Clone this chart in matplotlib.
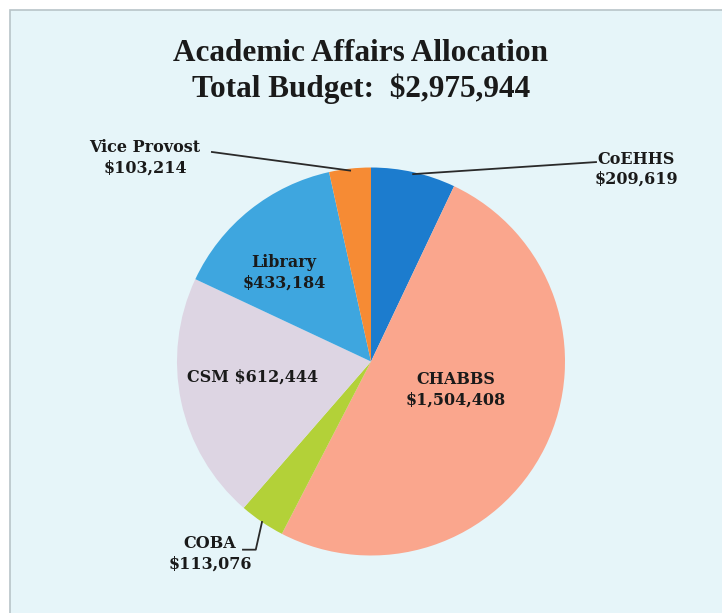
import numpy as np
import matplotlib.pyplot as plt
from matplotlib.patches import Rectangle

# budget allocation, clockwise from 12 o'clock
units = ['CoEHHS', 'CHABBS', 'COBA', 'CSM', 'Library', 'Vice Provost']
amounts = [209619, 1504408, 113076, 612444, 433184, 103214]
colors = ['#1c7cce', '#faa68d', '#b3d138', '#ddd5e3', '#3ea6df', '#f68b34']
title = 'Academic Affairs Allocation\nTotal Budget:  $2,975,944'

title_font = ['Liberation Serif', 'DejaVu Serif']
label_font = ['DejaVu Serif']

fig = plt.figure(figsize=(7.22, 6.13), dpi=100)
fig.patch.set_facecolor('white')
fig.patches.append(Rectangle((10 / 722, -0.01), 1.0, 1 - 10 / 613 + 0.01,
                             transform=fig.transFigure, facecolor='#e6f5f9',
                             edgecolor='#b8c4c8', linewidth=1.2, zorder=-5))

fig.text(0.5, 0.883, title, ha='center', va='center', fontsize=22.5,
         fontweight='bold', family=title_font, color='#1a1a1a', linespacing=1.25)

ax = fig.add_axes([177 / 722, 57.5 / 613, 388 / 722, 388 / 613])
ax.set_facecolor('none')
wedges, _ = ax.pie(amounts, colors=colors, startangle=90, counterclock=False,
                   radius=1.0, wedgeprops=dict(linewidth=0))
ax.set_xlim(-1, 1)
ax.set_ylim(-1, 1)
ax.set_aspect('equal')
ax.axis('off')

lbl = dict(ha='center', va='center', fontsize=11.5, fontweight='bold',
           family=label_font, color='#1a1a1a', linespacing=1.25)


def fmt(v):
    return '${:,}'.format(v)


def point_in(w, r):
    a = np.deg2rad((w.theta1 + w.theta2) / 2)
    return r * np.cos(a), r * np.sin(a)


# inside labels
ax.text(0.435, -0.147, units[1] + '\n' + fmt(amounts[1]), **lbl)
ax.text(-0.613, -0.08, units[3] + ' ' + fmt(amounts[3]), **lbl)
ax.text(-0.448, 0.456, units[4] + '\n' + fmt(amounts[4]), **lbl)

# outside labels with leader lines
line = dict(color='#2a2a2a', linewidth=1.3)

px, py = point_in(wedges[5], 0.99)
ax.text(-1.165, 1.05, units[5] + '\n' + fmt(amounts[5]), **lbl)
ax.plot([-0.82, px], [1.08, py], clip_on=False, **line)

px, py = point_in(wedges[0], 0.99)
ax.text(1.366, 0.99, units[0] + '\n' + fmt(amounts[0]), **lbl)
ax.plot([1.16, px], [1.028, py], clip_on=False, **line)

px, py = point_in(wedges[2], 1.0)
ax.text(-0.83, -0.99, units[2] + '\n' + fmt(amounts[2]), **lbl)
ax.plot([-0.66, -0.594, px], [-0.97, -0.97, py], clip_on=False, **line)

fig.savefig('out.png', dpi=100)
